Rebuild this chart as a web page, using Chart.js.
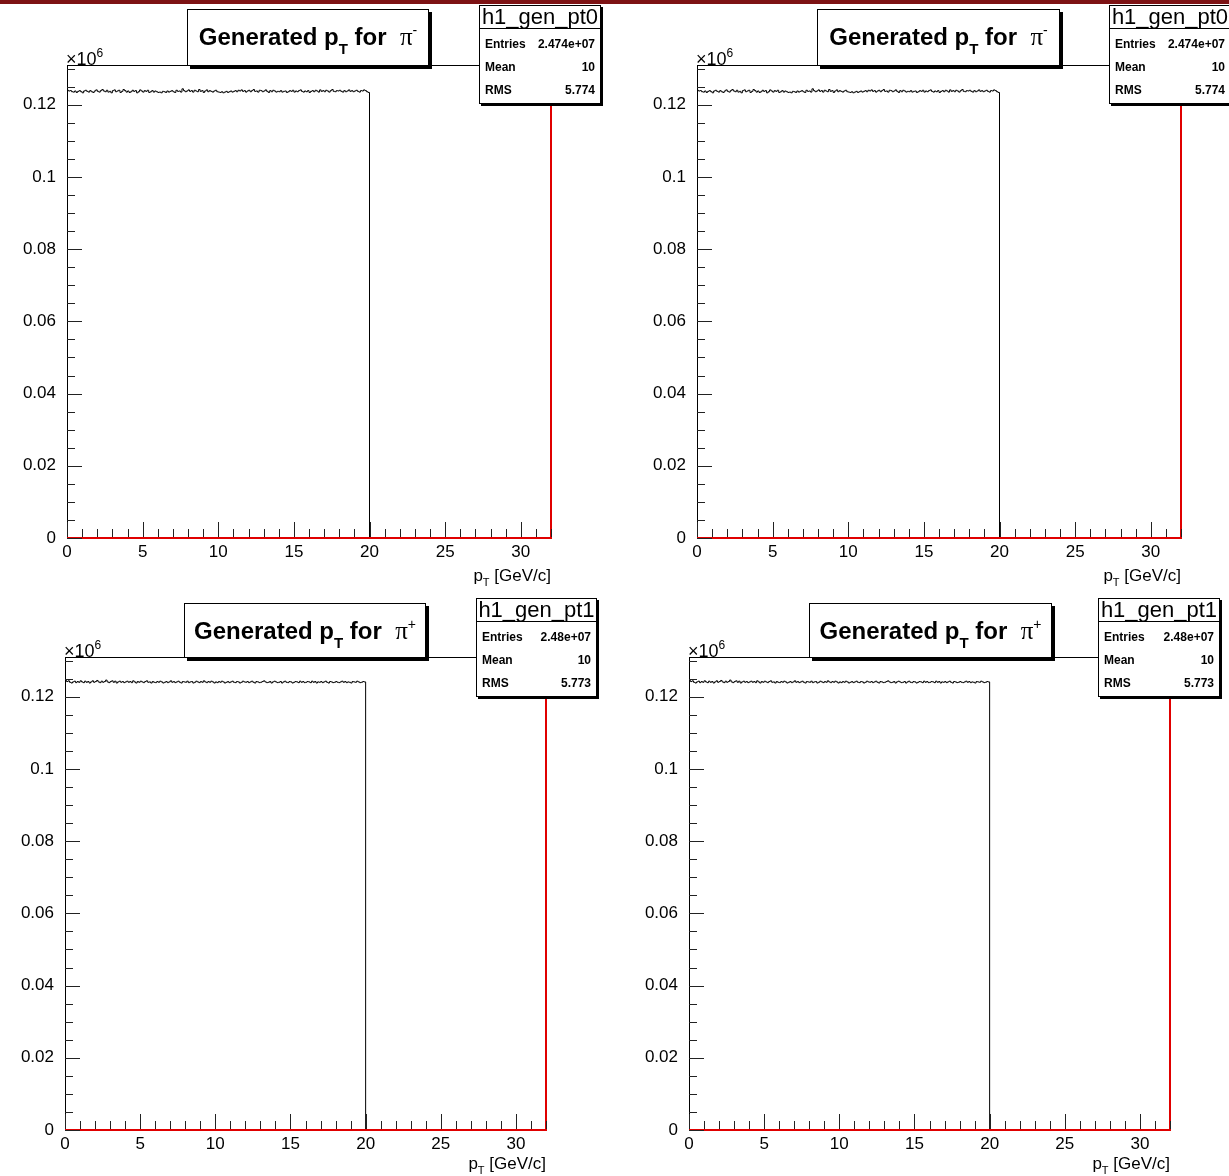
<!DOCTYPE html>
<html><head><meta charset="utf-8">
<script src="https://cdn.jsdelivr.net/npm/chart.js@4.4.1/dist/chart.umd.min.js"></script>
<style>
html,body{margin:0;padding:0;background:#fff;}
body{width:1229px;height:1176px;position:relative;overflow:hidden;font-family:"Liberation Sans",Arial,Helvetica,sans-serif;color:#000;}
.band{position:absolute;left:0;top:0;width:1229px;height:4px;background:#7d1214;z-index:6;}
canvas{position:absolute;z-index:1;}
.tbox{position:absolute;background:#fff;border:1px solid #000;box-shadow:3px 3px 0 #000;z-index:3;box-sizing:border-box;text-align:center;font-weight:bold;font-size:24px;line-height:24px;padding-top:8px;white-space:nowrap;}
.tbox .sub{font-size:15px;vertical-align:-9px;}
.tbox .pi{font-family:"Liberation Serif","DejaVu Serif",serif;font-weight:normal;font-size:25px;}
.tbox .sup{font-size:14px;font-weight:normal;vertical-align:10px;}
.sbox{position:absolute;background:#fff;border:1px solid #000;box-shadow:2px 2px 0 #000;z-index:3;box-sizing:border-box;}
.shead{height:22px;border-bottom:1px solid #000;font-size:22px;line-height:22px;text-align:center;white-space:nowrap;}
.srow{position:absolute;left:5px;right:5px;font-weight:bold;font-size:12px;line-height:14px;display:flex;justify-content:space-between;}
.xtitle{position:absolute;z-index:2;font-size:17px;line-height:17px;white-space:nowrap;text-align:right;}
.xtitle .sub{font-size:11px;vertical-align:-5px;}
.mult{position:absolute;z-index:2;font-size:18px;line-height:18px;white-space:nowrap;}
.mult .sup{font-size:12px;vertical-align:8px;}
</style>
</head>
<body>
<div class="band"></div>
<script>
// ---------------- data ----------------
// bin contents in thousands of entries (bins of 0.1 GeV/c from 0 to 20)
const piMinusK = [
124.0,123.8,123.9,123.6,123.5,123.8,123.4,123.7,123.9,123.6,123.3,123.8,124.0,123.7,123.5,123.9,123.6,123.4,123.8,124.1,
123.7,123.5,123.9,124.2,123.8,123.6,124.0,123.5,123.7,123.3,123.9,124.1,123.6,123.8,124.0,123.4,123.7,124.2,123.9,123.5,
123.8,123.4,123.6,124.0,123.7,123.9,123.3,123.6,124.1,123.8,123.5,123.9,123.7,124.0,123.4,123.6,123.9,123.5,123.8,123.6,
123.4,123.5,123.3,123.7,123.6,123.4,123.8,123.5,123.7,123.9,123.6,123.4,124.0,123.7,123.8,123.5,124.4,123.9,123.6,123.8,
124.1,123.7,123.9,123.5,124.0,123.8,123.6,124.2,123.7,123.9,123.4,123.8,124.1,123.6,123.9,123.7,123.5,123.8,124.0,123.6,
123.5,123.4,123.6,123.3,123.5,123.7,123.4,123.6,123.8,123.5,123.7,123.9,123.6,124.0,123.8,124.1,123.7,123.9,123.5,123.8,
124.0,123.6,123.9,124.2,123.7,123.8,123.5,124.0,123.9,123.6,123.8,124.1,123.7,123.4,123.9,123.6,124.0,123.8,123.5,123.7,
123.6,123.9,123.5,123.7,123.8,123.4,123.6,123.9,123.7,124.0,123.5,123.8,123.6,123.9,124.1,123.7,123.5,123.8,123.6,123.9,
123.4,123.7,123.9,123.6,124.0,123.8,123.5,124.1,123.7,123.9,123.6,124.0,123.8,123.5,123.9,124.2,123.7,123.6,123.9,123.8,
124.0,123.7,123.5,123.9,123.6,123.8,124.1,123.7,123.9,123.6,123.8,124.0,123.7,123.5,123.9,123.8,124.1,123.9,123.6,123.4
];
const piPlusK = [
124.5,124.2,124.4,124.0,123.8,124.1,124.3,123.9,124.2,124.0,124.4,124.1,123.9,124.3,124.0,124.2,123.8,124.1,124.4,124.0,
124.2,124.5,124.1,123.9,124.3,124.0,124.2,124.6,124.1,123.9,124.2,124.4,124.0,124.3,123.8,124.1,124.3,124.0,124.2,123.9,
124.1,124.3,124.0,124.2,123.9,124.4,124.1,123.8,124.2,124.0,124.3,124.1,123.9,124.2,124.4,124.0,124.1,123.8,124.2,124.0,
123.9,124.2,124.0,124.3,124.1,123.8,124.0,124.2,123.9,124.1,124.4,124.0,124.2,123.9,124.1,124.3,124.0,123.8,124.2,124.1,
124.0,124.3,123.9,124.1,124.2,123.8,124.0,124.3,124.1,123.9,124.2,124.0,124.4,124.1,123.9,124.2,124.0,124.3,124.1,123.8,
124.1,123.9,124.2,124.0,124.3,124.1,123.8,124.0,124.2,123.9,124.1,124.3,124.0,123.9,124.2,124.1,123.8,124.0,124.3,124.1,
124.0,124.2,123.9,124.1,124.3,124.0,123.8,124.2,124.1,123.9,124.0,124.2,124.4,124.1,123.9,124.0,124.2,123.8,124.1,124.3,
124.1,123.9,124.0,124.2,123.8,124.1,124.3,124.0,123.9,124.2,124.1,123.8,124.0,124.2,124.1,123.9,124.3,124.0,124.2,123.9,
124.0,124.2,124.1,123.9,124.3,124.0,124.2,123.8,124.1,124.0,124.2,123.9,124.1,124.3,124.0,123.8,124.2,124.1,123.9,124.0,
124.2,124.0,123.9,124.1,124.3,124.0,124.2,123.9,124.1,124.0,123.8,124.2,124.1,124.0,124.3,124.1,123.9,124.0,124.2,124.1
];
const binWidth = 0.1;          // GeV/c
const xRange = [0, 32];        // GeV/c
const yRange = [0, 0.131];     // x10^6 entries
// red reference histogram: empty everywhere, last edge rises off-scale
const redHistX = [0, 32, 32];
const redHistY = [0, 0, 0.2];
const xTickValues = [0, 5, 10, 15, 20, 25, 30];
const yTickValues = [0, 0.02, 0.04, 0.06, 0.08, 0.1, 0.12];
const xMinorStep = 1, yMinorStep = 0.005;
const histNames = ["h1_gen_pt0", "h1_gen_pt0", "h1_gen_pt1", "h1_gen_pt1"];
const histEntries = ["2.474e+07", "2.474e+07", "2.48e+07", "2.48e+07"];
const histMeans = ["10", "10", "10", "10"];
const histRMS = ["5.774", "5.774", "5.773", "5.773"];
const histCharge = ["-", "-", "+", "+"];
const histData = [piMinusK, piMinusK, piPlusK, piPlusK];

// ---------------- layout ----------------
const panels = [
  {frame:{l:67,t:65,r:551,b:538},  title:{x:187,y:9,w:242,h:57},  stats:{x:479,y:5,w:122,h:99}, xt:29},
  {frame:{l:697,t:65,r:1181,b:538},title:{x:817,y:9,w:243,h:57},  stats:{x:1109,y:5,w:122,h:99}, xt:29},
  {frame:{l:65,t:657,r:546,b:1130},title:{x:184,y:603,w:242,h:55},stats:{x:476,y:598,w:121,h:99}, xt:25},
  {frame:{l:689,t:657,r:1170,b:1130},title:{x:809,y:603,w:243,h:55},stats:{x:1098,y:598,w:122,h:99}, xt:25}
];
const PADL = 70, PADT = 70, PADR = 50, PADB = 50;

const rootPlugin = {
  id: 'rootFrame',
  beforeDatasetsDraw(chart) {
    const {ctx, chartArea: a} = chart;
    ctx.save();
    ctx.strokeStyle = '#000'; ctx.lineWidth = 1;
    ctx.strokeRect(Math.round(a.left) + 0.5, Math.round(a.top) + 0.5,
                   Math.round(a.right - a.left) - 1, Math.round(a.bottom - a.top) - 1);
    ctx.restore();
  },
  afterDatasetsDraw(chart) {
    const {ctx, chartArea: a} = chart;
    const xs = chart.scales.x, ys = chart.scales.y;
    ctx.save();
    ctx.strokeStyle = '#222'; ctx.lineWidth = 1;
    ctx.beginPath();
    const bottom = Math.round(a.bottom) - 1;
    for (let k = 0; k * xMinorStep <= xRange[1] + 1e-9; k++) {
      const v = k * xMinorStep;
      const px = Math.round(xs.getPixelForValue(v)) + 0.5;
      const len = xTickValues.includes(v) ? 15 : 8;
      ctx.moveTo(px, bottom); ctx.lineTo(px, bottom - len);
    }
    const left = Math.round(a.left);
    for (let k = 0; k * yMinorStep <= yRange[1] + 1e-9; k++) {
      const v = k * yMinorStep;
      const py = Math.round(ys.getPixelForValue(v)) + 0.5;
      const major = yTickValues.some(t => Math.abs(t - v) < 1e-9);
      const len = major ? 15 : 8;
      ctx.moveTo(left, py); ctx.lineTo(left + len, py);
    }
    ctx.stroke();
    ctx.restore();
  }
};

function fmtY(v) { return String(Number(v.toFixed(3))); }

panels.forEach((p, i) => {
  const f = p.frame;
  const W = (f.r - f.l) + PADL + PADR, H = (f.b - f.t) + PADT + PADB;
  const cv = document.createElement('canvas');
  cv.width = W; cv.height = H;
  cv.style.left = (f.l - PADL) + 'px'; cv.style.top = (f.t - PADT) + 'px';
  cv.style.width = W + 'px'; cv.style.height = H + 'px';
  document.body.appendChild(cv);

  const vals = histData[i];
  const blackPts = vals.map((v, k) => ({x: k * binWidth, y: v / 1000}));
  blackPts.push({x: vals.length * binWidth, y: 0});
  blackPts.push({x: xRange[1], y: 0});
  const redPts = redHistX.map((x, k) => ({x: x, y: redHistY[k]}));

  new Chart(cv, {
    type: 'line',
    data: {datasets: [
      {data: redPts, borderColor: '#e00000', borderWidth: 2, pointRadius: 0, stepped: 'before', fill: false, tension: 0,
       clip: {left: 2, top: 0, right: 2, bottom: 2}},
      {data: blackPts, borderColor: '#000', borderWidth: 1, pointRadius: 0, stepped: 'before', fill: false, tension: 0,
       clip: {left: 1, top: 0, right: 1, bottom: 1}}
    ]},
    options: {
      responsive: false, animation: false, devicePixelRatio: 1, events: [],
      layout: {padding: {left: 0, top: PADT, right: PADR, bottom: 0}},
      plugins: {legend: {display: false}, tooltip: {enabled: false}, title: {display: false}},
      scales: {
        x: {
          type: 'linear', min: xRange[0], max: xRange[1],
          grid: {display: false, drawTicks: false}, border: {display: false},
          afterBuildTicks: s => { s.ticks = xTickValues.map(v => ({value: v})); },
          afterFit: s => { s.height = PADB; },
          ticks: {padding: 4, color: '#000', font: {family: '"Liberation Sans", Arial, sans-serif', size: 17},
                  maxRotation: 0, autoSkip: false, callback: v => String(v)}
        },
        y: {
          type: 'linear', min: yRange[0], max: yRange[1],
          grid: {display: false, drawTicks: false}, border: {display: false},
          afterBuildTicks: s => { s.ticks = yTickValues.map(v => ({value: v})); },
          afterFit: s => { s.width = PADL; },
          ticks: {padding: 11, color: '#000', font: {family: '"Liberation Sans", Arial, sans-serif', size: 17},
                  autoSkip: false, callback: v => fmtY(v)}
        }
      }
    },
    plugins: [rootPlugin]
  });

  // title box
  const tb = document.createElement('div');
  tb.className = 'tbox';
  Object.assign(tb.style, {left: p.title.x + 'px', top: p.title.y + 'px', width: p.title.w + 'px', height: p.title.h + 'px'});
  tb.innerHTML = 'Generated p<span class="sub">T</span> for&nbsp; <span class="pi">π</span><span class="sup">' + histCharge[i] + '</span>';
  document.body.appendChild(tb);

  // stats box
  const sb = document.createElement('div');
  sb.className = 'sbox';
  Object.assign(sb.style, {left: p.stats.x + 'px', top: p.stats.y + 'px', width: p.stats.w + 'px', height: p.stats.h + 'px'});
  sb.innerHTML = '<div class="shead">' + histNames[i] + '</div>' +
    '<div class="srow" style="top:31px"><span>Entries</span><span>' + histEntries[i] + '</span></div>' +
    '<div class="srow" style="top:54px"><span>Mean</span><span>' + histMeans[i] + '</span></div>' +
    '<div class="srow" style="top:77px"><span>RMS</span><span>' + histRMS[i] + '</span></div>';
  document.body.appendChild(sb);

  // x axis title
  const xt = document.createElement('div');
  xt.className = 'xtitle';
  xt.style.right = (1229 - f.r) + 'px';
  xt.style.top = (f.b + p.xt) + 'px';
  xt.innerHTML = 'p<span class="sub">T</span> [GeV/c]';
  document.body.appendChild(xt);

  // multiplier label
  const mu = document.createElement('div');
  mu.className = 'mult';
  mu.style.left = (f.l - 1) + 'px';
  mu.style.top = (f.t - 21) + 'px';
  mu.innerHTML = '×10<span class="sup">6</span>';
  document.body.appendChild(mu);
});
</script>
</body></html>
